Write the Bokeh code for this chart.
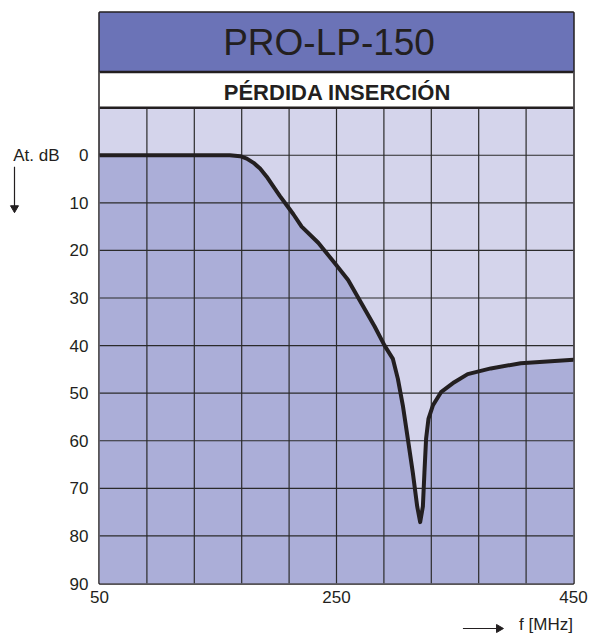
import math
from bokeh.plotting import figure
from bokeh.layouts import row, column
from bokeh.models import Range1d, FixedTicker
from bokeh.core.properties import value
from bokeh.embed import file_html
from bokeh.resources import INLINE

# ---- data ----
title_text = "PRO-LP-150"
subtitle_text = "PÉRDIDA INSERCIÓN"
y_unit_label = "At. dB"
x_unit_label = "f [MHz]"

freq_mhz = [50, 100, 150, 160, 168.7, 174.3, 180.0, 185.5, 191.1, 196.8, 202.3,
            208.0, 213.6, 220.6, 234.6, 248.6, 259.8, 271.0, 282.2, 290.6, 297.6,
            301.8, 306.0, 310.2, 314.4, 318.1, 320.6, 322.9, 324.2, 325.6, 327.6,
            331.3, 338.2, 349.4, 360.7, 380.2, 405.5, 450]
att_db = [0, 0, 0, 0, 0.2, 0.7, 1.6, 2.8, 4.5, 6.6, 8.6,
          10.5, 12.4, 15.0, 18.4, 22.7, 26.2, 31.1, 36.0, 40.0, 42.8,
          47.0, 52.6, 59.6, 66.7, 73.8, 77.1, 73.8, 66.7, 59.6, 55.4,
          52.6, 49.8, 47.7, 46.0, 44.8, 43.7, 43.0]

x_ticks = [50, 250, 450]
y_ticks = [0, 10, 20, 30, 40, 50, 60, 70, 80, 90]
x_grid = [50, 90, 130, 170, 210, 250, 290, 330, 370, 410, 450]

F_MIN, F_MAX = 50, 450
DB_TOP, DB_BOTTOM = -10, 90
HEADER_SPLIT = -17.5
HEADER_TOP = -30

DARK = "#231f20"
FONT = "Liberation Sans"

x_range = Range1d(F_MIN, F_MAX)
y_range = Range1d(DB_BOTTOM, HEADER_TOP)

# ---------------- main chart ----------------
p = figure(width=523, height=611, output_backend="svg", toolbar_location=None,
           x_range=x_range, y_range=y_range,
           min_border_left=31, min_border_right=16, min_border_top=12, min_border_bottom=28,
           background_fill_color="white", border_fill_color="white")
p.xgrid.visible = False
p.ygrid.visible = False
p.outline_line_color = DARK
p.outline_line_width = 2.5

# header bands
p.quad(left=[F_MIN], right=[F_MAX], top=[HEADER_TOP], bottom=[HEADER_SPLIT],
       fill_color="#6b73b7", line_color=None)
p.quad(left=[F_MIN], right=[F_MAX], top=[HEADER_SPLIT], bottom=[DB_TOP],
       fill_color="white", line_color=None)
# plot background
p.quad(left=[F_MIN], right=[F_MAX], top=[DB_TOP], bottom=[DB_BOTTOM],
       fill_color="#d4d4eb", line_color=None)
# area under curve
p.varea(x=freq_mhz, y1=att_db, y2=[DB_BOTTOM] * len(att_db), fill_color="#abaed8")

# grid
vx = x_grid[1:-1]
p.segment(x0=vx, x1=vx, y0=[DB_TOP] * len(vx), y1=[DB_BOTTOM] * len(vx),
          line_color="#2b2b2b", line_width=1.2)
hy = y_ticks[:-1]
p.segment(x0=[F_MIN] * len(hy), x1=[F_MAX] * len(hy), y0=hy, y1=hy,
          line_color="#2b2b2b", line_width=1.2)
# separators
p.segment(x0=[F_MIN, F_MIN], x1=[F_MAX, F_MAX], y0=[HEADER_SPLIT, DB_TOP],
          y1=[HEADER_SPLIT, DB_TOP], line_color=DARK, line_width=2.5)

# curve
p.line(freq_mhz, att_db, line_color=DARK, line_width=4, line_join="round", line_cap="round")

# header texts
p.text(x=[243.7], y=[-23.7], text=[title_text], text_font=value(FONT),
       text_font_size="37px", text_align="center", text_baseline="alphabetic",
       text_color=DARK)
p.text(x=[250.8], y=[-13.1], text=[subtitle_text], text_font=value(FONT),
       text_font_style="bold", text_font_size="22px", text_align="center",
       text_baseline="alphabetic", text_color=DARK)

# axes
for ax, ticks, standoff in ((p.xaxis, x_ticks, 7), (p.yaxis, y_ticks, 11)):
    ax.ticker = FixedTicker(ticks=ticks)
    ax.major_tick_out = 0
    ax.major_tick_in = 0
    ax.minor_tick_out = 0
    ax.minor_tick_in = 0
    ax.axis_line_color = None
    ax.major_label_standoff = standoff
    ax.major_label_text_font = FONT
    ax.major_label_text_font_size = "17px"
    ax.major_label_text_color = DARK

# ---------------- left strip: y unit label + arrow ----------------
left = figure(width=66, height=634, output_backend="svg", toolbar_location=None,
              x_range=Range1d(0, 66), y_range=y_range,
              x_axis_type=None, y_axis_type=None,
              min_border_left=0, min_border_right=0, min_border_top=12, min_border_bottom=51,
              background_fill_color="white", border_fill_color="white",
              outline_line_color=None)
left.text(x=[12.7], y=[0], text=[y_unit_label], text_font=value(FONT),
          text_font_size="17px", text_align="left", text_baseline="middle",
          text_color=DARK)
left.segment(x0=[14], x1=[14], y0=[2.4], y1=[10.8], line_color=DARK, line_width=1.2)
left.scatter(x=[14], y=[11.1], marker="triangle", size=8, angle=math.pi,
             fill_color=DARK, line_color=DARK)

# ---------------- bottom strip: x unit label + arrow ----------------
bottom = figure(width=523, height=23, output_backend="svg", toolbar_location=None,
                x_range=x_range, y_range=Range1d(0, 23),
                x_axis_type=None, y_axis_type=None,
                min_border_left=31, min_border_right=16, min_border_top=0, min_border_bottom=0,
                background_fill_color="white", border_fill_color="white",
                outline_line_color=None)
bottom.text(x=[449.5], y=[10], text=[x_unit_label], text_font=value(FONT),
            text_font_size="17px", text_align="right", text_baseline="middle",
            text_color=DARK)
bottom.segment(x0=[356.7], x1=[386.0], y0=[6], y1=[6], line_color=DARK, line_width=1.2)
bottom.scatter(x=[387.0], y=[6], marker="triangle", size=8, angle=-math.pi / 2,
               fill_color=DARK, line_color=DARK)

layout = row(left, column(p, bottom, spacing=0), spacing=0)

open("out.html", "w").write(file_html(layout, INLINE))
